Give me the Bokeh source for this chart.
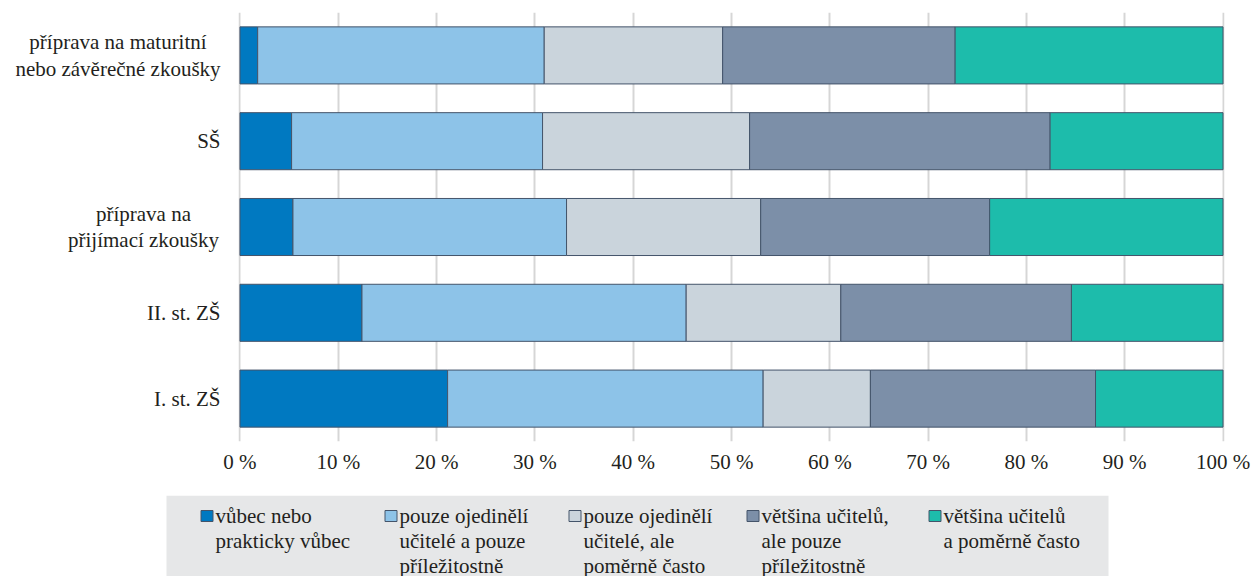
from bokeh.plotting import figure
from bokeh.models import ColumnDataSource, Range1d, FixedTicker, Label
from bokeh.layouts import column, row
from bokeh.embed import file_html
from bokeh.resources import INLINE

# ---------------- data ----------------
categories = [
    "příprava na maturitní\nnebo závěrečné zkoušky",
    "SŠ",
    "příprava na\npřijímací zkoušky",
    "II. st. ZŠ",
    "I. st. ZŠ",
]
series_labels = [
    "vůbec nebo\nprakticky vůbec",
    "pouze ojedinělí\nučitelé a pouze\npříležitostně",
    "pouze ojedinělí\nučitelé, ale\npoměrně často",
    "většina učitelů,\nale pouze\npříležitostně",
    "většina učitelů\na poměrně často",
]
vubec = [1.8, 5.25, 5.39, 12.41, 21.12]
ojedineli_prilezitostne = [29.15, 25.53, 27.83, 32.98, 32.10]
ojedineli_casto = [18.15, 21.06, 19.75, 15.73, 10.91]
vetsina_prilezitostne = [23.65, 30.57, 23.29, 23.46, 22.90]
vetsina_casto = [27.25, 17.59, 23.74, 15.42, 12.97]
x_ticks = [0, 10, 20, 30, 40, 50, 60, 70, 80, 90, 100]
x_tick_labels = ["0 %", "10 %", "20 %", "30 %", "40 %", "50 %", "60 %", "70 %", "80 %", "90 %", "100 %"]

colors = ["#0079c1", "#8dc3e8", "#cad4dc", "#7c8fa8", "#1dbcab"]
FONT = "'Liberation Serif', 'Times New Roman', 'DejaVu Serif', serif"
TXT = "#231f20"
FS = "21px"

n = len(categories)
ypos = [n - 1 - i for i in range(n)]  # first category on top
keys = ["s1", "s2", "s3", "s4", "s5"]
source = ColumnDataSource(dict(
    y=ypos,
    s1=vubec, s2=ojedineli_prilezitostne, s3=ojedineli_casto,
    s4=vetsina_prilezitostne, s5=vetsina_casto,
))

# ---------------- layout constants ----------------
TOTAL_W, TOTAL_H = 1252, 576
LABEL_W = 221          # width of the category-label panel
MAIN_H = 495           # height of chart row
BT, BB = 12, 54        # top / bottom borders of the chart frame
BL, BR = 17, 28
XR = (-0.15, 100.15)


def bare(fig):
    fig.axis.visible = False
    fig.grid.visible = False
    fig.outline_line_color = None


# ---------------- main chart ----------------
p = figure(
    width=TOTAL_W - LABEL_W, height=MAIN_H,
    y_range=Range1d(-0.5, n - 0.5),
    x_range=Range1d(*XR),
    output_backend="svg", toolbar_location=None,
    min_border_left=BL, min_border_right=BR, min_border_top=BT, min_border_bottom=BB,
)
p.hbar_stack(keys, y="y", height=0.665, color=colors, source=source,
             line_color="#44546a", line_width=1)

p.outline_line_color = None
p.ygrid.grid_line_color = None
p.xgrid.grid_line_color = "#d6d6d6"
p.xgrid.grid_line_width = 2
p.xgrid.level = "underlay"
p.yaxis.visible = False

p.xaxis.ticker = FixedTicker(ticks=x_ticks)
p.xaxis.major_label_overrides = {t: l for t, l in zip(x_ticks, x_tick_labels)}
p.xaxis.axis_line_color = None
p.xaxis.major_tick_line_color = None
p.xaxis.minor_tick_line_color = None
p.xaxis.major_label_text_font = FONT
p.xaxis.major_label_text_font_size = FS
p.xaxis.major_label_text_color = TXT
p.xaxis.major_label_standoff = 2

# ---------------- category labels panel ----------------
lab = figure(
    width=LABEL_W, height=MAIN_H,
    x_range=Range1d(0, LABEL_W), y_range=Range1d(-0.5, n - 0.5),
    output_backend="svg", toolbar_location=None,
    min_border_left=0, min_border_right=0, min_border_top=BT, min_border_bottom=BB,
)
bare(lab)
RIGHT = 220
approx_w = {0: 205, 2: 154}
for i, c in enumerate(categories):
    if "\n" in c:
        lab.add_layout(Label(x=RIGHT - approx_w[i] / 2, y=ypos[i], text=c,
                             text_align="center", text_baseline="middle",
                             text_font=FONT, text_font_size=FS, text_color=TXT,
                             text_line_height=1.1))
    else:
        lab.add_layout(Label(x=RIGHT, y=ypos[i], text=c,
                             text_align="right", text_baseline="middle",
                             text_font=FONT, text_font_size=FS, text_color=TXT))

# ---------------- legend ----------------
LH = TOTAL_H - MAIN_H
lg = figure(
    width=TOTAL_W, height=LH,
    x_range=Range1d(0, TOTAL_W), y_range=Range1d(LH, 0),
    output_backend="svg", toolbar_location=None,
    min_border=0,
)
bare(lg)
lg.quad(left=[166], right=[1108], top=[0], bottom=[LH], color="#e6e7e8", line_color=None)

entry_x = [200, 384, 568, 746, 928]
line0 = 20
mx, my, mc = [], [], []
for i, s in enumerate(series_labels):
    mx.append(entry_x[i] + 6.5)
    my.append(line0 + 0.5)
    mc.append(colors[i])
    for j, line in enumerate(s.split("\n")):
        lg.add_layout(Label(x=entry_x[i] + 15, y=line0 + 25 * j, text=line,
                            text_align="left", text_baseline="middle",
                            text_font=FONT, text_font_size=FS, text_color=TXT))
lg.rect(x=mx, y=my, width=12, height=11, fill_color=mc, line_color="#44546a", line_width=1)

layout = column(row(lab, p, spacing=0), lg, spacing=0)
open("out.html", "w").write(file_html(layout, INLINE))
